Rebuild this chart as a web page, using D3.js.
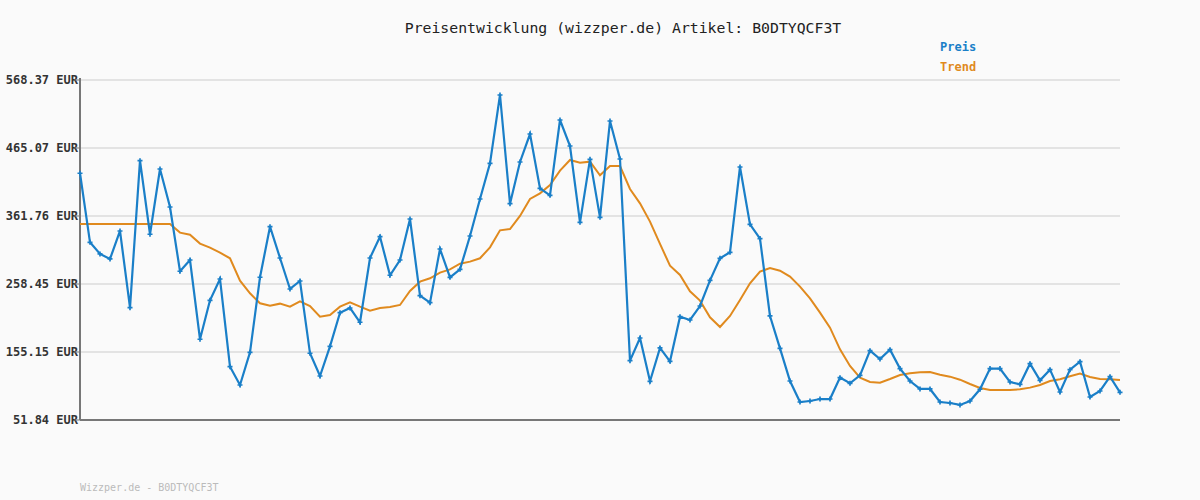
<!DOCTYPE html>
<html><head><meta charset="utf-8">
<script src="https://cdn.jsdelivr.net/npm/d3@7"></script>
<style>body{margin:0;background:#fafafa}svg{display:block}text{font-family:"DejaVu Sans Mono",monospace}</style>
</head><body><svg id="c" width="1200" height="500"></svg>
<script>
const title = "Preisentwicklung (wizzper.de) Artikel: B0DTYQCF3T";
const footer = "Wizzper.de - B0DTYQCF3T";
const tickLabels = [51.84,155.15,258.45,361.76,465.07,568.37];
const price = [426.7,321.8,304.1,296.5,339.0,222.5,445.8,334.0,433.2,375.4,277.8,294.9,174.5,233.7,266.1,132.8,105.0,154.7,268.7,345.5,298.0,250.9,263.0,153.2,118.7,163.8,214.9,222.0,200.3,298.0,330.3,271.7,294.9,357.2,240.7,230.1,
311.6,268.6,280.7,331.4,387.6,441.8,545.6,380.5,443.8,486.3,403.8,393.2,507.6,468.1,352.1,447.8,359.7,506.1,448.4,142.0,176.4,110.6,161.3,141.0,208.8,203.8,225.0,264.0,297.4,306.6,436.2,349.1,327.4,209.9,160.7,
111.1,79.2,80.7,83.7,83.7,116.2,107.6,119.7,157.2,144.5,158.7,129.9,111.1,99.0,99.0,79.2,77.7,74.7,80.7,98.5,129.9,129.9,109.6,106.0,137.4,112.1,128.3,94.4,128.3,140.5,86.8,95.9,117.7,93.9];
const trend = [349.6,349.6,349.6,349.6,349.6,349.6,349.6,349.6,349.6,349.6,336.5,333.4,319.8,313.7,306.1,297.5,263.5,244.3,229.1,225.6,228.6,224.0,232.2,225.0,208.9,211.4,224.0,230.6,224.0,218.0,222.0,223.5,226.6,247.8,262.0,267.1,
275.7,280.7,289.3,292.4,297.5,314.2,340.0,342.0,361.8,387.6,396.2,408.9,430.7,446.9,442.8,444.3,423.6,437.7,437.7,402.8,381.0,353.2,319.3,286.3,272.2,247.4,233.2,207.8,193.2,209.9,234.2,259.5,277.2,282.8,278.7,
269.6,254.4,236.7,214.9,192.1,159.2,133.9,116.2,109.6,108.6,114.2,120.2,122.8,124.3,124.8,120.7,117.7,113.1,106.6,100.5,97.5,97.5,97.5,98.5,101.0,105.0,111.1,113.7,118.2,122.3,117.2,114.2,113.7,112.6];
const blue="#1a7fc8", orange="#e08a1e";
const svg=d3.select("#c");
svg.append("rect").attr("width",1200).attr("height",500).attr("fill","#fafafa");
const x=d3.scaleLinear().domain([0,price.length-1]).range([80,1120]);
const y=d3.scaleLinear().domain([51.84,568.37]).range([420,80]);
svg.append("g").selectAll("line").data(tickLabels.slice(1)).join("line")
 .attr("x1",80).attr("x2",1120).attr("y1",d=>y(d)).attr("y2",d=>y(d)).attr("stroke","#e3e3e3").attr("stroke-width",2);
svg.append("g").selectAll("text").data(tickLabels).join("text")
 .attr("x",78).attr("y",d=>y(d)+4).attr("text-anchor","end").attr("font-size",12).attr("font-weight","bold").attr("fill","#333")
 .text(d=>d.toFixed(2)+" EUR");
svg.append("g").selectAll("line").data(tickLabels).join("line")
 .attr("x1",74).attr("x2",80).attr("y1",d=>y(d)).attr("y2",d=>y(d)).attr("stroke","#777");
svg.append("line").attr("x1",80).attr("x2",80).attr("y1",78).attr("y2",420).attr("stroke","#777").attr("stroke-width",2);
svg.append("line").attr("x1",80).attr("x2",1120).attr("y1",420).attr("y2",420).attr("stroke","#777").attr("stroke-width",2);
const line=d3.line().x((d,i)=>x(i)).y(d=>y(d));
svg.append("path").attr("d",line(trend)).attr("fill","none").attr("stroke",orange).attr("stroke-width",2);
svg.append("path").attr("d",line(price)).attr("fill","none").attr("stroke",blue).attr("stroke-width",2.2);
svg.append("g").selectAll("path").data(price).join("path")
 .attr("d",d3.symbol(d3.symbolCross,14)()).attr("transform",(d,i)=>`translate(${x(i)},${y(d)})`).attr("fill",blue);
svg.append("text").attr("x",623).attr("y",33).attr("text-anchor","middle").attr("font-size",14.8).attr("fill","#222").text(title);
svg.append("text").attr("x",940).attr("y",51).attr("font-size",12).attr("font-weight","bold").attr("fill",blue).text("Preis");
svg.append("text").attr("x",940).attr("y",71).attr("font-size",12).attr("font-weight","bold").attr("fill",orange).text("Trend");
svg.append("text").attr("x",80).attr("y",491).attr("font-size",10).attr("fill","#bbb").text(footer);
</script></body></html>
